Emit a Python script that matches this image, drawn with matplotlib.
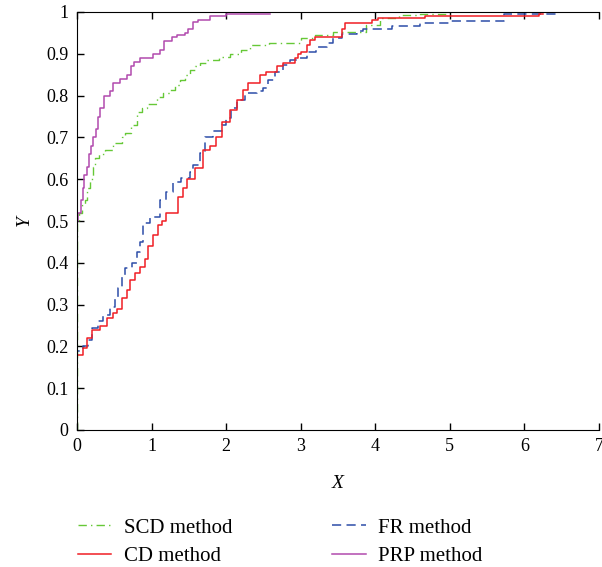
import matplotlib
matplotlib.use('Agg')
from matplotlib import pyplot as plt

# performance profile data (step functions)
SCD_X = [0, 0, 0.03, 0.07, 0.11, 0.14, 0.17, 0.21, 0.24, 0.30, 0.37, 0.48, 0.60, 0.65, 0.72,
         0.80, 0.87, 0.94, 1.07, 1.15, 1.25, 1.32, 1.38, 1.45, 1.51, 1.58, 1.65, 1.74, 1.90,
         2.05, 2.20, 2.32, 2.58, 2.74, 3.01, 3.19, 3.43, 3.88, 4.06, 4.32, 4.60, 5.00]
SCD_Y = [0, 0.50, 0.52, 0.54, 0.55, 0.58, 0.60, 0.63, 0.65, 0.66, 0.67, 0.687, 0.70, 0.71, 0.73,
         0.76, 0.77, 0.78, 0.797, 0.806, 0.813, 0.825, 0.837, 0.85, 0.861, 0.87, 0.878, 0.885, 0.893,
         0.90, 0.91, 0.92, 0.925, 0.926, 0.937, 0.945, 0.952, 0.97, 0.985, 0.993, 0.995, 0.995]

CD_X = [0, 0, 0.08, 0.13, 0.20, 0.31, 0.40, 0.48, 0.53, 0.60, 0.67, 0.71, 0.78, 0.84, 0.91,
        0.95, 1.02, 1.08, 1.14, 1.20, 1.35, 1.42, 1.47, 1.58, 1.69, 1.78, 1.87, 1.94, 2.05,
        2.14, 2.22, 2.29, 2.45, 2.54, 2.68, 2.76, 2.92, 2.96, 3.01, 3.08, 3.12, 3.19, 3.55,
        3.59, 3.95, 4.03, 4.66, 6.20, 6.25]
CD_Y = [0, 0.18, 0.196, 0.22, 0.24, 0.25, 0.268, 0.28, 0.29, 0.315, 0.335, 0.36, 0.375, 0.39, 0.41,
        0.44, 0.466, 0.49, 0.50, 0.52, 0.557, 0.58, 0.60, 0.627, 0.67, 0.68, 0.70, 0.737, 0.765,
        0.79, 0.813, 0.83, 0.85, 0.856, 0.87, 0.878, 0.89, 0.90, 0.904, 0.92, 0.933, 0.94, 0.96,
        0.974, 0.98, 0.986, 0.991, 0.995, 0.995]

FR_X = [0, 0, 0.08, 0.15, 0.20, 0.28, 0.35, 0.44, 0.51, 0.55, 0.60, 0.64, 0.74, 0.80, 0.84,
        0.89, 0.98, 1.11, 1.20, 1.29, 1.40, 1.51, 1.55, 1.65, 1.71, 1.82, 1.94, 2.00, 2.07,
        2.15, 2.25, 2.41, 2.49, 2.56, 2.65, 2.76, 2.85, 2.99, 3.08, 3.21, 3.35, 3.43, 3.56,
        3.75, 3.83, 4.23, 4.60, 5.00, 5.72, 6.45]
FR_Y = [0, 0.19, 0.20, 0.215, 0.244, 0.26, 0.275, 0.295, 0.315, 0.34, 0.366, 0.387, 0.40, 0.426, 0.45,
        0.495, 0.51, 0.55, 0.57, 0.593, 0.603, 0.617, 0.634, 0.663, 0.70, 0.715, 0.73, 0.746, 0.77,
        0.79, 0.806, 0.81, 0.818, 0.837, 0.856, 0.873, 0.885, 0.89, 0.904, 0.916, 0.926, 0.938, 0.947,
        0.955, 0.96, 0.967, 0.974, 0.978, 0.995, 0.995]

PRP_X = [0, 0, 0.02, 0.05, 0.08, 0.10, 0.13, 0.16, 0.19, 0.22, 0.25, 0.28, 0.31, 0.36, 0.44,
         0.48, 0.58, 0.67, 0.72, 0.76, 0.84, 1.02, 1.11, 1.17, 1.27, 1.34, 1.45, 1.49, 1.55,
         1.62, 1.78, 2.00, 2.59]
PRP_Y = [0, 0.50, 0.52, 0.55, 0.58, 0.61, 0.63, 0.66, 0.68, 0.70, 0.72, 0.75, 0.77, 0.80, 0.81,
         0.83, 0.84, 0.85, 0.87, 0.88, 0.89, 0.90, 0.91, 0.93, 0.94, 0.945, 0.95, 0.96, 0.975,
         0.98, 0.99, 0.995, 0.995]

X_TICKS = [0, 1, 2, 3, 4, 5, 6, 7]
Y_TICKS = [0, 0.1, 0.2, 0.3, 0.4, 0.5, 0.6, 0.7, 0.8, 0.9, 1.0]
Y_LABELS = ['0', '0.1', '0.2', '0.3', '0.4', '0.5', '0.6', '0.7', '0.8', '0.9', '1']

plt.rcParams['font.family'] = ['Liberation Serif', 'DejaVu Serif']
plt.rcParams['font.size'] = 13

fig = plt.figure(figsize=(6.02, 5.67), dpi=100)
ax = fig.add_axes([77 / 602, 1 - 430 / 567, 522 / 602, 418 / 567])

scd, = ax.step(SCD_X, SCD_Y, where='post', color='#66C837', lw=1.0,
               dashes=(6, 3, 1, 3), label='SCD method')
fr, = ax.step(FR_X, FR_Y, where='post', color='#2C4DA8', lw=1.1,
              dashes=(6, 3.5), label='FR method')
cd, = ax.step(CD_X, CD_Y, where='post', color='#F01E24', lw=1.1, label='CD method')
prp, = ax.step(PRP_X, PRP_Y, where='post', color='#B14AAE', lw=1.1, label='PRP method')

ax.set_xlim(0, 7)
ax.set_ylim(0, 1)
ax.set_xticks(X_TICKS)
ax.set_yticks(Y_TICKS)
ax.set_yticklabels(Y_LABELS)
ax.spines['right'].set_visible(False)
ax.tick_params(direction='in', length=5, width=1, top=True, right=False, pad=6)

ax.set_xlabel('X', fontstyle='italic', fontsize=14, labelpad=14)
ax.set_ylabel('Y', fontstyle='italic', fontsize=14, labelpad=10)

fig.legend(handles=[scd, cd, fr, prp], ncol=2, frameon=False,
           loc='upper left', bbox_to_anchor=(78 / 602, 1 - 518 / 567),
           borderpad=0, borderaxespad=0,
           handlelength=1.6, handletextpad=0.6, columnspacing=4.8,
           labelspacing=0.42, fontsize=15)

fig.savefig('out.png', dpi=100)
